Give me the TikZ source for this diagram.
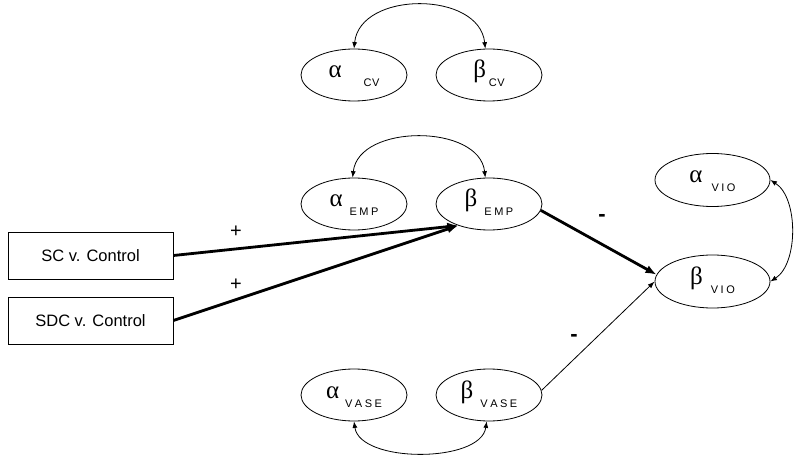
\documentclass[tikz,border=0pt]{standalone}
\usepackage{fontspec}
\setmainfont{Liberation Sans}
\newfontfamily\grkfont{Liberation Serif}
\usetikzlibrary{shapes.geometric,arrows.meta}
\newcommand{\gk}[1]{{\grkfont\fontsize{25}{25}\selectfont #1}}
\newcommand{\sbs}[1]{\raisebox{-9pt}{\fontsize{11}{11}\selectfont #1}}
\newcommand{\lsp}{\kern2.5pt }
\begin{document}
\begin{tikzpicture}[x=1pt,y=-1pt,
  lat/.style={draw, ellipse, line width=0.8pt, minimum width=106pt, minimum height=52pt, inner sep=0pt, text height=14pt, text depth=8pt},
  latw/.style={lat, minimum width=115pt, minimum height=53pt},
  obs/.style={draw, rectangle, line width=0.8pt, minimum width=165pt, minimum height=47pt, inner sep=0pt, font=\fontsize{16.5}{16.5}\selectfont},
  strong/.style={line width=2.8pt, -{Latex[length=11pt,width=8.5pt]}},
  weak/.style={line width=0.8pt, -{Latex[length=7pt,width=5pt]}},
  cov/.style={line width=0.8pt, {Latex[length=6.5pt,width=5pt]}-{Latex[length=6.5pt,width=5pt]}},
  sign/.style={font=\fontsize{20}{20}\selectfont, inner sep=0pt}
]
\path[use as bounding box] (0,0) rectangle (800,462);

% latent ellipses
\node[lat] (aCV) at (354,75) {\gk{α}\hspace{22pt}\sbs{C\kern0.5pt V}};
\node[lat] (bCV) at (489,75) {\gk{β}\hspace{3pt}\sbs{C\kern0.5pt V}};
\node[lat] (aEMP) at (354,204) {\gk{α}\hspace{7pt}\sbs{E\lsp M\lsp P}};
\node[lat] (bEMP) at (489,204) {\gk{β}\hspace{7pt}\sbs{E\lsp M\lsp P}};
\node[lat] (aVASE) at (354,395) {\gk{α}\hspace{6pt}\sbs{V\lsp A\lsp S\lsp E}};
\node[lat] (bVASE) at (489,395) {\gk{β}\hspace{7pt}\sbs{V\lsp A\lsp S\lsp E}};
\node[latw] (aVIO) at (712.5,180) {\gk{α}\hspace{9pt}\sbs{V\lsp I\lsp O}};
\node[latw] (bVIO) at (712.5,281.5) {\gk{β}\hspace{8pt}\sbs{V\lsp I\lsp O}};

% observed boxes
\node[obs] (SC) at (90.5,255.5) {SC v. Control};
\node[obs] (SDC) at (90.5,320.5) {SDC v. Control};

% paths
\draw[strong] (SC.east) -- (bEMP.215);
\draw[strong] (SDC.east) -- (bEMP.215);
\draw[strong] (bEMP.-7) -- (bVIO.173);
\draw[weak] (bVASE.5) -- (bVIO.180);

% covariances
\draw[cov] (aCV.north) .. controls +(6,-58) and +(-6,-58) .. (bCV.98);
\draw[cov] (aEMP.93) .. controls +(6,-54) and +(-6,-54) .. (bEMP.98);
\draw[cov] (aVASE.south) .. controls +(6,42) and +(-6,42) .. (bVASE.265);
\draw[cov] (aVIO.east) .. controls +(28,18) and +(28,-18) .. (bVIO.east);

% signs
\node[sign] (p1) at (236,232) {+};
\node[sign] (p2) at (236,285) {+};
\node[sign, font=\fontsize{22}{22}\selectfont\bfseries] (m1) at (602,218) {-};
\node[sign, font=\fontsize{22}{22}\selectfont\bfseries] (m2) at (574,338) {-};
\end{tikzpicture}
\end{document}
